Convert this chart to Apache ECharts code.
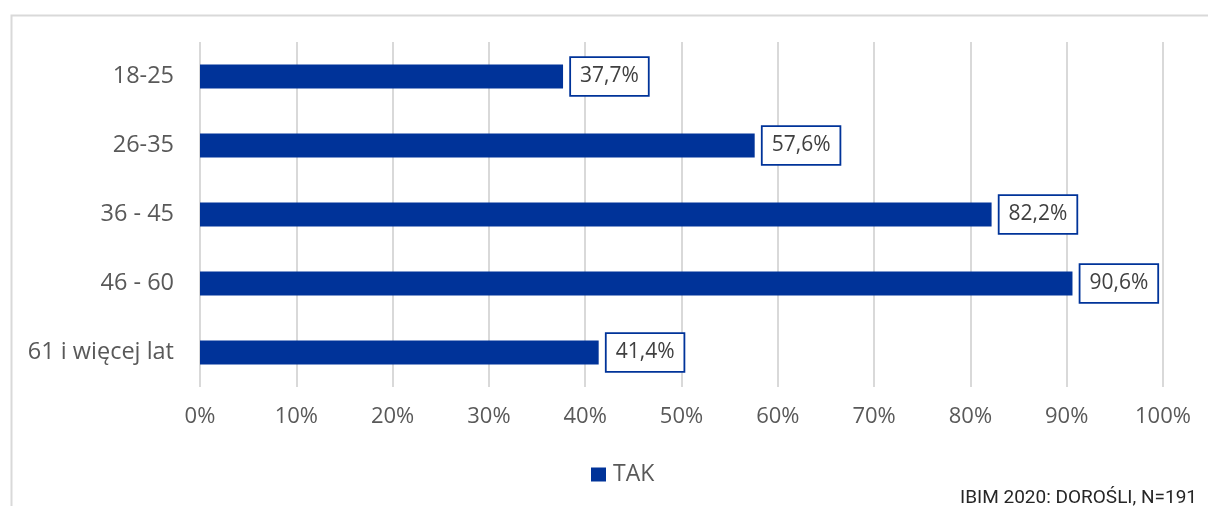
<!DOCTYPE html>
<html>
<head>
<meta charset="utf-8">
<script src="https://cdn.jsdelivr.net/npm/echarts@6/dist/echarts.min.js"></script>
<style>
html,body{margin:0;padding:0;background:#fff;}
#chart{width:1208px;height:506px;}
</style>
</head>
<body>
<div id="chart"></div>
<script>
const categories = ['18-25', '26-35', '36 - 45', '46 - 60', '61 i więcej lat'];
const values = [37.7, 57.6, 82.2, 90.6, 41.4];
const seriesName = 'TAK';
const xTicks = [0, 10, 20, 30, 40, 50, 60, 70, 80, 90, 100];
const sourceNote = 'IBIM 2020: DOROŚLI, N=191';

const FONT = '"Open Sans", "DejaVu Sans", sans-serif';
const chart = echarts.init(document.getElementById('chart'));
chart.setOption({
  animation: false,
  backgroundColor: '#ffffff',
  textStyle: { fontFamily: FONT },
  graphic: [
    { type: 'rect', left: 9, top: 13, shape: { width: 1230, height: 520 },
      style: { fill: 'none', stroke: '#d9d9d9', lineWidth: 2 }, silent: true },
    { type: 'text', right: 11, top: 489,
      style: { text: sourceNote, fill: '#262626', font: '19px Roboto, sans-serif' } }
  ],
  legend: {
    data: [seriesName],
    left: 586,
    top: 458,
    itemWidth: 15, itemHeight: 14,
    icon: 'rect',
    itemGap: 8,
    textStyle: { color: '#595959', fontSize: 23, fontFamily: FONT, padding: [0, 0, 0, 2] }
  },
  grid: { left: 200, right: 45, top: 42, bottom: 119, containLabel: false },
  xAxis: {
    type: 'value', min: xTicks[0], max: xTicks[xTicks.length - 1], interval: 10,
    axisLine: { show: false }, axisTick: { show: false },
    splitLine: { show: true, lineStyle: { color: '#d9d9d9', width: 2 } },
    axisLabel: { color: '#595959', fontSize: 22, fontFamily: FONT, margin: 19,
      formatter: v => v + '%' }
  },
  yAxis: {
    type: 'category', data: categories, inverse: true,
    axisLine: { show: false }, axisTick: { show: false },
    axisLabel: { color: '#595959', fontSize: 23.5, fontFamily: FONT, margin: 26 }
  },
  series: [{
    name: seriesName, type: 'bar', data: values, barWidth: 24,
    itemStyle: { color: '#003399' },
    label: {
      show: true, position: 'right', distance: 8,
      formatter: p => p.value.toFixed(1).replace('.', ',') + '%',
      color: '#404040', fontSize: 21, fontFamily: FONT, lineHeight: 24,
      backgroundColor: '#ffffff', borderColor: '#003399', borderWidth: 1.8,
      padding: [7, 9, 6, 9]
    }
  }]
});
</script>
</body>
</html>
